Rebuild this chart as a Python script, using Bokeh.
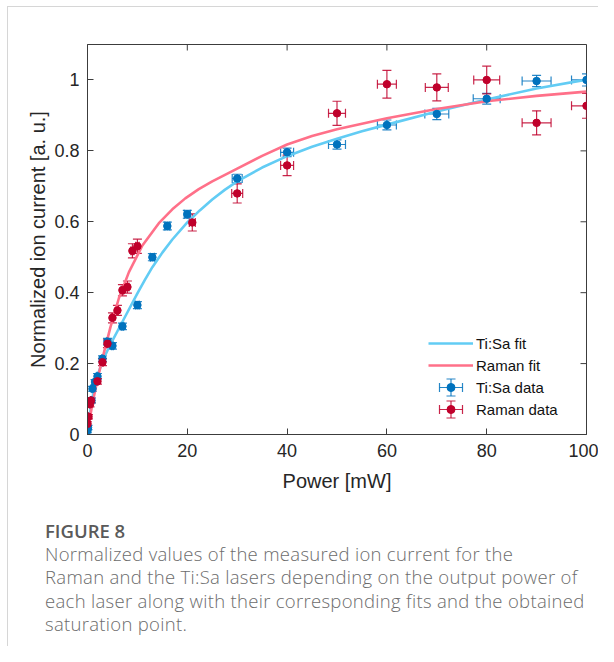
import math
from bokeh.plotting import figure
from bokeh.layouts import column
from bokeh.models import (ColumnDataSource, Whisker, TeeHead, Legend, LegendItem,
                          FixedTicker, NumeralTickFormatter, Range1d, Div)
from bokeh.embed import file_html
from bokeh.resources import INLINE

# ---------------- data ----------------
tisa_power = [0, 0.1, 0.8, 1.0, 1.5, 2.0, 3.0, 4.0, 5.0, 7.0, 10.0, 13.0, 16.0, 20.0,
              30, 40, 50, 60, 70, 80, 90, 100]
tisa_current = [0.011, 0.02, 0.096, 0.129, 0.148, 0.164, 0.214, 0.262, 0.25, 0.305, 0.365,
                0.50, 0.588, 0.621, 0.722, 0.796, 0.818, 0.873, 0.904, 0.947, 0.997, 1.0]
tisa_power_err = [0.05, 0.05, 0.1, 0.1, 0.1, 0.1, 0.15, 0.2, 0.2, 0.25, 0.35, 0.4, 0.5, 0.6,
                  1.0, 1.3, 1.7, 1.9, 2.4, 2.7, 2.9, 3.0]
tisa_current_err = [0.006, 0.006, 0.007, 0.007, 0.007, 0.008, 0.008, 0.009, 0.009, 0.009, 0.01,
                    0.01, 0.011, 0.011, 0.012, 0.012, 0.013, 0.014, 0.016, 0.015, 0.016, 0.017]

raman_power = [0, 0.2, 0.5, 0.7, 2.0, 3.0, 4.0, 5.0, 6.0, 7.0, 8.0, 9.0, 10.0, 21.0,
               30, 40, 50, 60, 70, 80, 90, 100]
raman_current = [0.03, 0.05, 0.085, 0.096, 0.15, 0.204, 0.256, 0.329, 0.35, 0.407, 0.416,
                 0.518, 0.531, 0.598, 0.68, 0.759, 0.906, 0.988, 0.979, 1.0, 0.879, 0.927]
raman_power_err = [0.05, 0.05, 0.05, 0.05, 0.1, 0.15, 0.15, 0.2, 0.2, 0.25, 0.3, 0.3, 0.35, 0.6,
                   1.1, 1.3, 1.7, 1.9, 2.3, 2.6, 2.9, 3.0]
raman_current_err = [0.006, 0.006, 0.007, 0.007, 0.008, 0.01, 0.011, 0.014, 0.014, 0.016, 0.017,
                     0.02, 0.02, 0.024, 0.027, 0.029, 0.034, 0.039, 0.038, 0.039, 0.034, 0.035]

tisa_fit_power = [0, 0.5, 1, 2, 3, 4, 5, 7, 10, 11.5, 13, 15, 17, 20, 22.5, 25, 27.5, 30, 35,
                  40, 45, 50, 55, 60, 70, 80, 90, 100]
tisa_fit_current = [0, 0.062, 0.105, 0.165, 0.207, 0.237, 0.265, 0.318, 0.398, 0.436, 0.472,
                    0.513, 0.55, 0.598, 0.632, 0.663, 0.690, 0.714, 0.753, 0.785, 0.8115,
                    0.834, 0.855, 0.874, 0.911, 0.945, 0.976, 1.001]
raman_fit_power = [0, 0.5, 1, 2, 2.9, 4.6, 6.3, 8.3, 11, 14.3, 17, 19.6, 22.3, 25, 30, 35, 40,
                   45, 50, 60, 70, 80, 90, 100]
raman_fit_current = [0, 0.048, 0.088, 0.155, 0.209, 0.303, 0.385, 0.458, 0.533, 0.596, 0.635,
                     0.666, 0.692, 0.714, 0.750, 0.786, 0.818, 0.842, 0.861, 0.892, 0.918,
                     0.940, 0.955, 0.967]

x_ticks = [0, 20, 40, 60, 80, 100]
y_ticks = [0, 0.2, 0.4, 0.6, 0.8, 1.0]
X_MAX, Y_MAX = 100, 1.1

caption_title = "FIGURE 8"
caption_lines = [
    "Normalized values of the measured ion current for the",
    "Raman and the Ti:Sa lasers depending on the output power of",
    "each laser along with their corresponding fits and the obtained",
    "saturation point.",
]

# ---------------- styles ----------------
BLUE = "#0072BD"
RED = "#C0002B"
BLUE_FIT = "#62CCF4"
RED_FIT = "#FF7089"
AXIS = "#3c3c3c"
TXT = "#262626"
FONT = "Liberation Sans"

p = figure(width=598, height=505, x_range=Range1d(0, X_MAX), y_range=Range1d(0, Y_MAX),
           output_backend="svg", toolbar_location=None,
           min_border_left=87, min_border_right=12, min_border_top=44, min_border_bottom=71)
p.grid.visible = False
p.outline_line_color = AXIS
p.outline_line_width = 1
p.background_fill_color = "white"
p.border_fill_color = None

p.xaxis.ticker = FixedTicker(ticks=x_ticks)
p.yaxis.ticker = FixedTicker(ticks=y_ticks)
p.yaxis.formatter = NumeralTickFormatter(format="0.[0]")
for ax in (p.xaxis[0], p.yaxis[0]):
    ax.axis_line_color = AXIS
    ax.major_tick_line_color = AXIS
    ax.major_tick_in = 6
    ax.major_tick_out = 0
    ax.minor_tick_line_color = None
    ax.major_label_text_font = FONT
    ax.major_label_text_font_size = "18px"
    ax.major_label_text_color = TXT
    ax.axis_label_text_font = FONT
    ax.axis_label_text_font_size = "20px"
    ax.axis_label_text_font_style = "normal"
    ax.axis_label_text_color = TXT
p.xaxis.axis_label = "Power [mW]"
p.yaxis.axis_label = "Normalized ion current [a. u.]"
p.xaxis.major_label_standoff = 9
p.xaxis.axis_label_standoff = 10
p.yaxis.major_label_standoff = 8
p.yaxis.axis_label_standoff = 2

# inward ticks on the top and right edges of the box (half of each dash is clipped away)
p.scatter(x_ticks, [Y_MAX] * len(x_ticks), marker="dash", angle=math.pi / 2, size=12,
          line_color=AXIS, line_width=1)
p.scatter([X_MAX] * len(y_ticks), y_ticks, marker="dash", size=12, line_color=AXIS, line_width=1)

# fits
r_tfit = p.line(tisa_fit_power, tisa_fit_current, line_color=BLUE_FIT, line_width=2.6,
                line_join="round")
r_rfit = p.line(raman_fit_power, raman_fit_current, line_color=RED_FIT, line_width=2.6,
                line_join="round")


def whisker(color, **kw):
    return Whisker(line_color=color, line_width=1.2, line_alpha=0.85,
                   lower_head=TeeHead(size=9, line_color=color, line_width=1.2, line_alpha=0.85),
                   upper_head=TeeHead(size=9, line_color=color, line_width=1.2, line_alpha=0.85),
                   **kw)


def series(xs, ys, xe, ye, color):
    src = ColumnDataSource(dict(
        x=xs, y=ys,
        xl=[a - b for a, b in zip(xs, xe)], xu=[a + b for a, b in zip(xs, xe)],
        yl=[a - b for a, b in zip(ys, ye)], yu=[a + b for a, b in zip(ys, ye)]))
    p.add_layout(whisker(color, source=src, base="y", lower="xl", upper="xu", dimension="width"))
    p.add_layout(whisker(color, source=src, base="x", lower="yl", upper="yu", dimension="height"))
    return p.scatter("x", "y", source=src, size=7.5, fill_color=color, line_color=color)


r_tdata = series(tisa_power, tisa_current, tisa_power_err, tisa_current_err, BLUE)
r_rdata = series(raman_power, raman_current, raman_power_err, raman_current_err, RED)

# legend
LEG_X, LEG_Y, GW, GH, SP = 341, 15, 45, 20, 2
legend = Legend(items=[
    LegendItem(label="Ti:Sa fit", renderers=[r_tfit]),
    LegendItem(label="Raman fit", renderers=[r_rfit]),
    LegendItem(label="Ti:Sa data", renderers=[r_tdata]),
    LegendItem(label="Raman data", renderers=[r_rdata]),
], location=(LEG_X, LEG_Y), glyph_width=GW, glyph_height=GH, label_height=GH, spacing=SP,
    padding=0, margin=0, label_standoff=3, background_fill_alpha=0, border_line_color=None,
    label_text_font=FONT, label_text_font_size="15px", label_text_color="#111111")
p.add_layout(legend)

# error-bar symbols of the legend's data entries (screen units, from the legend layout)
cx = LEG_X + GW / 2
for k, color in ((1, BLUE), (0, RED)):
    cy = LEG_Y + GH / 2 + k * (GH + SP)
    p.add_layout(whisker(color, base=cy, lower=cx - 11.5, upper=cx + 11.5, dimension="width",
                         base_units="screen", lower_units="screen", upper_units="screen"))
    p.add_layout(whisker(color, base=cx, lower=cy - 8.5, upper=cy + 8.5, dimension="height",
                         base_units="screen", lower_units="screen", upper_units="screen"))

# caption
caption_html = (
    '<div style="font-family:\'Open Sans\',sans-serif; font-size:18.5px; line-height:23.3px; '
    'letter-spacing:0.3px; font-weight:300; color:#6c6c6c; padding:9px 0 0 40px; '
    'white-space:nowrap;">'
    '<div style="font-weight:600; font-size:18.5px; letter-spacing:0; color:#5a5a5a; '
    'line-height:23px;">' + caption_title + '</div>'
    + "<br>".join(caption_lines) + '</div>')
cap = Div(text=caption_html, width=598, height=141)

layout = column(p, cap, spacing=0, width=598, height=646)
layout.styles = {
    "background-color": "white",
    "background-image": "linear-gradient(#d6d6d6, #d6d6d6), linear-gradient(#d6d6d6, #d6d6d6)",
    "background-repeat": "no-repeat",
    "background-size": "1px 100%, 100% 1px",
    "background-position": "7px 6px, 7px 6px",
}

open("out.html", "w").write(file_html(layout, INLINE))
